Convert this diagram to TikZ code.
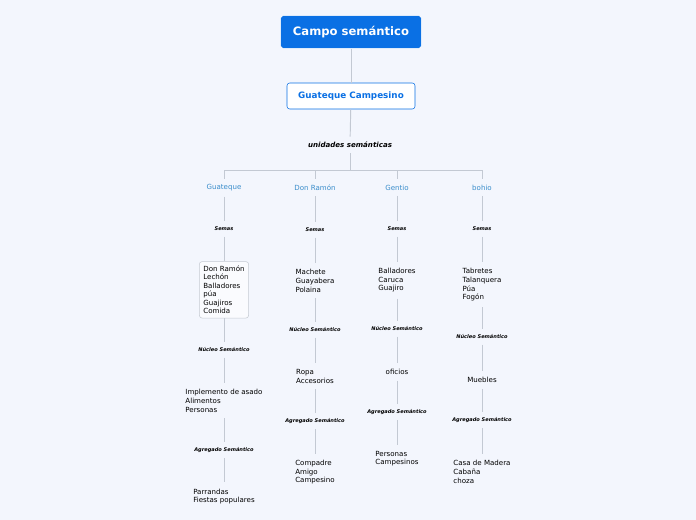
\documentclass[tikz,border=0pt]{standalone}
\usepackage{fontspec}
\setmainfont{DejaVu Sans}
\definecolor{fondo}{HTML}{F3F6FD}
\definecolor{azul}{HTML}{0A70E4}
\definecolor{celeste}{HTML}{3A8DCB}
\definecolor{linea}{HTML}{C3C9D3}
\definecolor{borde}{HTML}{C5CAD2}
\begin{document}
\begin{tikzpicture}[x=0.75pt, y=-0.75pt,
    raiz/.style={draw=white, fill=azul, rounded corners=2pt, text=white, font=\fontsize{8.7}{10}\selectfont\bfseries, minimum width=105.5pt, minimum height=24.5pt},
    tema/.style={draw=azul, fill=white, rounded corners=2pt, text=azul, font=\fontsize{6.6}{8}\selectfont\bfseries, minimum width=96pt, minimum height=19.5pt},
    titulo/.style={font=\fontsize{5.3}{6.4}\selectfont\bfseries\itshape, inner sep=4pt, yshift=-0.75pt},
    rama/.style={text=celeste, font=\fontsize{5.3}{6.4}\selectfont, inner sep=4pt, yshift=-1.2pt},
    etiq/.style={font=\fontsize{3.8}{4.6}\selectfont\bfseries\itshape, inner xsep=2pt, inner ysep=4pt, yshift=-0.75pt},
    lista/.style={align=left, font=\fontsize{5.3}{6.4}\selectfont, inner xsep=2pt, inner ysep=4.5pt, yshift=-1pt},
    caja/.style={lista, draw=borde, fill=white!60!fondo, rounded corners=2pt, inner sep=3pt, minimum width=36pt},
    conector/.style={draw=linea, line width=0.7pt}]

    % Fondo y marco
    \fill[fondo] (0,0) rectangle (696,520);

    % Niveles superiores
    \node[raiz] (campo) at (351,32) {Campo semántico};
    \node[tema] (guat) at (351,96) {Guateque Campesino};
    \node[titulo] (uni) at (350,144) {unidades semánticas};
    \coordinate (bus) at (350,170);

    \draw[conector] (campo) -- (guat);
    \draw[conector] (guat) -- (uni);
    \draw[conector] (uni) -- (bus);

    % Columnas
    \def\xa{224}
    \def\xb{315}
    \def\xc{397}
    \def\xd{482}

    \node[rama] (ra) at (\xa,186) {Guateque};
    \node[rama] (rb) at (\xb,186) {Don Ramón};
    \node[rama] (rc) at (\xc,186) {Gentio};
    \node[rama] (rd) at (\xd,186) {bohio};

    \draw[conector] (bus) -| (ra);
    \draw[conector] (bus) -| (rb);
    \draw[conector] (bus) -| (rc);
    \draw[conector] (bus) -| (rd);

    % Guateque
    \node[etiq] (sa) at (\xa,228) {Semas};
    \node[caja] (ia) at (\xa,288.5) {Don Ramón\\Lechón\\Balladores\\púa\\Guajiros\\Comida};
    \node[etiq] (na) at (\xa,349) {Núcleo Semántico};
    \node[lista] (ka) at (\xa,399.5) {Implemento de asado\\Alimentos\\Personas};
    \node[etiq] (ga) at (\xa,449) {Agregado Semántico};
    \node[lista] (pa) at (\xa,495) {Parrandas\\Fiestas populares};
    \draw[conector] (ra) -- (sa);
    \draw[conector] (sa) -- (ia);
    \draw[conector] (ia) -- (na);
    \draw[conector] (na) -- (ka);
    \draw[conector] (ka) -- (ga);
    \draw[conector] (ga) -- (pa);

    % Don Ramón
    \node[etiq] (sb) at (\xb,229) {Semas};
    \node[lista] (ib) at (\xb,279.5) {Machete\\Guayabera\\Polaina};
    \node[etiq] (nb) at (\xb,329) {Núcleo Semántico};
    \node[lista] (kb) at (\xb,375) {Ropa\\Accesorios};
    \node[etiq] (gb) at (\xb,420) {Agregado Semántico};
    \node[lista] (pb) at (\xb,471) {Compadre\\Amigo\\Campesino};
    \draw[conector] (rb) -- (sb);
    \draw[conector] (sb) -- (ib);
    \draw[conector] (ib) -- (nb);
    \draw[conector] (nb) -- (kb);
    \draw[conector] (kb) -- (gb);
    \draw[conector] (gb) -- (pb);

    % Gentio
    \node[etiq] (sc) at (\xc,228) {Semas};
    \node[lista] (ic) at (\xc,279) {Balladores\\Caruca\\Guajiro};
    \node[etiq] (nc) at (\xc,328) {Núcleo Semántico};
    \node[lista] (kc) at (\xc,370.5) {oficios};
    \node[etiq] (gc) at (\xc,411) {Agregado Semántico};
    \node[lista] (pc) at (\xc,457.5) {Personas\\Campesinos};
    \draw[conector] (rc) -- (sc);
    \draw[conector] (sc) -- (ic);
    \draw[conector] (ic) -- (nc);
    \draw[conector] (nc) -- (kc);
    \draw[conector] (kc) -- (gc);
    \draw[conector] (gc) -- (pc);

    % bohio
    \node[etiq] (sd) at (\xd,228) {Semas};
    \node[lista] (id) at (\xd,283.5) {Tabretes\\Talanquera\\Púa\\Fogón};
    \node[etiq] (nd) at (\xd,336) {Núcleo Semántico};
    \node[lista] (kd) at (\xd,378.5) {Muebles};
    \node[etiq] (gd) at (\xd,419) {Agregado Semántico};
    \node[lista] (pd) at (\xd,470.5) {Casa de Madera\\Cabaña\\choza};
    \draw[conector] (rd) -- (sd);
    \draw[conector] (sd) -- (id);
    \draw[conector] (id) -- (nd);
    \draw[conector] (nd) -- (kd);
    \draw[conector] (kd) -- (gd);
    \draw[conector] (gd) -- (pd);
\end{tikzpicture}
\end{document}
